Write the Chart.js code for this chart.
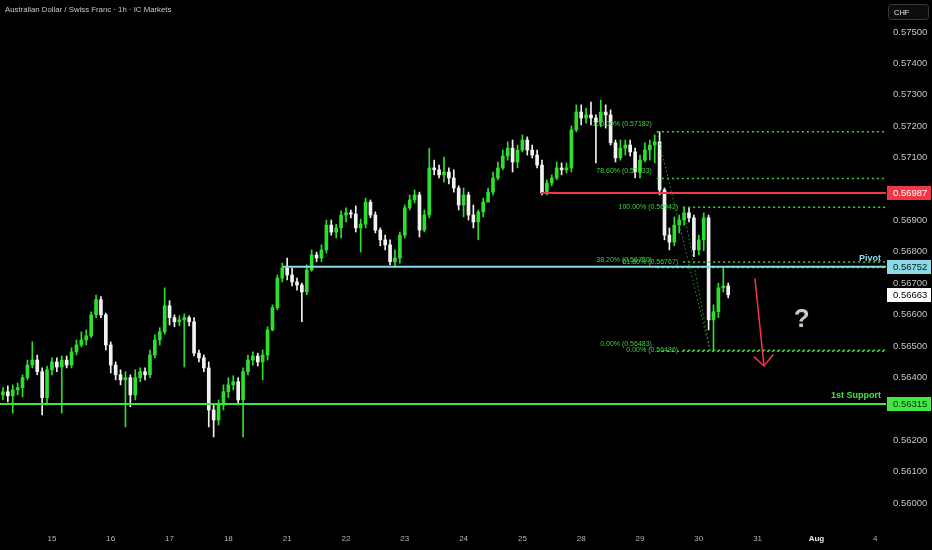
<!DOCTYPE html>
<html>
<head>
<meta charset="utf-8">
<script src="https://cdn.jsdelivr.net/npm/chart.js@4.4.1/dist/chart.umd.min.js"></script>
<style>
  html, body { margin:0; padding:0; background:#000; overflow:hidden; }
  canvas { display:block; }
</style>
</head>
<body>
<canvas id="chart" width="932" height="550"></canvas>
<script>
// x axis: trading hours since 15 Jul 00:00 (weekend removed), one tick per day
const dayLabels = ['15','16','17','18','21','22','23','24','25','28','29','30','31','Aug','4'];
const dayTicks  = [0,24,48,72,96,120,144,168,192,216,240,264,288,312,336];
const priceTicks = [0.560,0.561,0.562,0.563,0.564,0.565,0.566,0.567,0.568,0.569,0.570,0.571,0.572,0.573,0.574,0.575];

// 2h candles, first one at hour -20
const firstHour = -20, stepHours = 2;

const open = [
  0.56344,0.56354,0.56341,0.56360,0.56367,0.56399,0.56439,0.56455,0.56418,0.56335,
  0.56424,0.56449,0.56433,0.56455,0.56439,0.56481,0.56503,0.56519,0.56532,0.56599,
  0.56647,0.56599,0.56503,0.56439,0.56408,0.56392,0.56399,0.56344,0.56399,0.56418,
  0.56408,0.56471,0.56519,0.56545,0.56628,0.56590,0.56577,0.56583,0.56590,0.56577,
  0.56477,0.56462,0.56430,0.56296,0.56264,0.56312,0.56354,0.56376,0.56386,0.56328,
  0.56418,0.56455,0.56468,0.56449,0.56471,0.56551,0.56622,0.56716,0.56748,0.56726,
  0.56704,0.56694,0.56672,0.56742,0.56790,0.56780,0.56806,0.56885,0.56863,0.56876,
  0.56917,0.56924,0.56920,0.56876,0.56888,0.56958,0.56917,0.56869,0.56838,0.56822,
  0.56768,0.56780,0.56853,0.56940,0.56965,0.56981,0.56869,0.56917,0.57067,0.57061,
  0.57045,0.57054,0.57035,0.57003,0.56949,0.56981,0.56917,0.56895,0.56927,0.56958,
  0.56990,0.57035,0.57067,0.57105,0.57130,0.57086,0.57124,0.57156,0.57124,0.57108,
  0.57076,0.56987,0.57019,0.57035,0.57067,0.57061,0.57067,0.57188,0.57245,0.57226,
  0.57236,0.57226,0.57213,0.57245,0.57236,0.57147,0.57099,0.57130,0.57140,0.57118,
  0.57054,0.57092,0.57124,0.57140,0.57150,0.56997,0.56853,0.56831,0.56885,0.56901,
  0.56924,0.56908,0.56806,0.56838,0.56908,0.56583,0.56609,0.56685,0.56691
];
const high = [
  0.56367,0.56373,0.56376,0.56382,0.56408,0.56455,0.56513,0.56471,0.56430,0.56436,
  0.56462,0.56462,0.56468,0.56468,0.56494,0.56519,0.56545,0.56551,0.56609,0.56662,
  0.56657,0.56605,0.56513,0.56449,0.56424,0.56418,0.56408,0.56424,0.56430,0.56430,
  0.56487,0.56535,0.56558,0.56685,0.56644,0.56599,0.56596,0.56602,0.56596,0.56590,
  0.56487,0.56471,0.56449,0.56312,0.56328,0.56376,0.56399,0.56405,0.56399,0.56430,
  0.56471,0.56481,0.56477,0.56487,0.56561,0.56631,0.56726,0.56764,0.56780,0.56748,
  0.56716,0.56700,0.56758,0.56806,0.56799,0.56822,0.56901,0.56901,0.56888,0.56930,
  0.56940,0.56933,0.56946,0.56904,0.56971,0.56965,0.56927,0.56876,0.56853,0.56838,
  0.56806,0.56863,0.56949,0.56981,0.56997,0.56990,0.56933,0.57130,0.57092,0.57076,
  0.57102,0.57067,0.57061,0.57010,0.57003,0.56990,0.56949,0.56933,0.56971,0.57003,
  0.57054,0.57086,0.57124,0.57150,0.57156,0.57140,0.57172,0.57166,0.57140,0.57124,
  0.57092,0.57029,0.57045,0.57086,0.57083,0.57083,0.57201,0.57268,0.57268,0.57258,
  0.57277,0.57236,0.57283,0.57268,0.57252,0.57156,0.57156,0.57156,0.57156,0.57130,
  0.57108,0.57147,0.57156,0.57172,0.57182,0.57003,0.56876,0.56911,0.56917,0.56942,
  0.56940,0.56917,0.56853,0.56924,0.56917,0.56631,0.56700,0.56752,0.56700
];
const low = [
  0.56328,0.56322,0.56286,0.56344,0.56338,0.56392,0.56430,0.56408,0.56280,0.56312,
  0.56408,0.56418,0.56286,0.56430,0.56430,0.56471,0.56497,0.56503,0.56526,0.56590,
  0.56590,0.56487,0.56414,0.56392,0.56376,0.56242,0.56306,0.56328,0.56386,0.56392,
  0.56399,0.56462,0.56503,0.56538,0.56567,0.56561,0.56564,0.56433,0.56564,0.56468,
  0.56449,0.56418,0.56242,0.56210,0.56248,0.56296,0.56335,0.56360,0.56312,0.56210,
  0.56408,0.56439,0.56436,0.56392,0.56455,0.56548,0.56615,0.56704,0.56710,0.56691,
  0.56678,0.56577,0.56663,0.56738,0.56768,0.56768,0.56796,0.56853,0.56844,0.56844,
  0.56895,0.56908,0.56863,0.56799,0.56876,0.56908,0.56860,0.56819,0.56806,0.56758,
  0.56752,0.56764,0.56844,0.56933,0.56955,0.56847,0.56863,0.56908,0.57045,0.57035,
  0.57022,0.57016,0.56990,0.56933,0.56911,0.56901,0.56876,0.56838,0.56911,0.56965,
  0.56981,0.57029,0.57061,0.57092,0.57054,0.57067,0.57118,0.57108,0.57099,0.57067,
  0.56981,0.56981,0.57010,0.57029,0.57045,0.57051,0.57054,0.57182,0.57204,0.57210,
  0.57204,0.57083,0.57198,0.57194,0.57140,0.57086,0.57092,0.57108,0.57105,0.57035,
  0.57035,0.57086,0.57092,0.57083,0.56981,0.56838,0.56806,0.56819,0.56860,0.56885,
  0.56895,0.56784,0.56790,0.56803,0.56551,0.56486,0.56590,0.56672,0.56653
];
const close = [
  0.56354,0.56341,0.56360,0.56367,0.56399,0.56439,0.56455,0.56418,0.56335,0.56424,
  0.56449,0.56433,0.56455,0.56439,0.56481,0.56503,0.56519,0.56532,0.56599,0.56647,
  0.56599,0.56503,0.56439,0.56408,0.56392,0.56399,0.56344,0.56399,0.56418,0.56408,
  0.56471,0.56519,0.56545,0.56628,0.56590,0.56577,0.56583,0.56590,0.56577,0.56477,
  0.56462,0.56430,0.56296,0.56264,0.56312,0.56354,0.56376,0.56386,0.56328,0.56418,
  0.56455,0.56468,0.56449,0.56471,0.56551,0.56622,0.56716,0.56748,0.56726,0.56704,
  0.56694,0.56672,0.56742,0.56790,0.56780,0.56806,0.56885,0.56863,0.56876,0.56917,
  0.56924,0.56920,0.56876,0.56888,0.56958,0.56917,0.56869,0.56838,0.56822,0.56768,
  0.56780,0.56853,0.56940,0.56965,0.56981,0.56869,0.56917,0.57067,0.57061,0.57045,
  0.57054,0.57035,0.57003,0.56949,0.56981,0.56917,0.56895,0.56927,0.56958,0.56990,
  0.57035,0.57067,0.57105,0.57130,0.57086,0.57124,0.57156,0.57124,0.57108,0.57076,
  0.56987,0.57019,0.57035,0.57067,0.57061,0.57067,0.57188,0.57245,0.57226,0.57236,
  0.57226,0.57213,0.57245,0.57236,0.57147,0.57099,0.57130,0.57140,0.57118,0.57054,
  0.57092,0.57124,0.57140,0.57150,0.56997,0.56853,0.56831,0.56885,0.56901,0.56924,
  0.56908,0.56806,0.56838,0.56908,0.56583,0.56609,0.56685,0.56691,0.56663
];

// drawn levels (price) and where they start (hour)
const resistance = 0.56987, resistanceFrom = 199.6;
const pivot = 0.56752, pivotFrom = 94.3;
const support = 0.56315;
const lastPrice = 0.56663;
const fibA = [0.57182, 0.57033, 0.56750, 0.56483];
const fibAPct = ['100.00%', '78.60%', '38.20%', '0.00%'];
const fibAFrom = 246.9;
const fibB = [0.56942, 0.56767, 0.56486];
const fibBPct = ['100.00%', '61.80%', '0.00%'];
const fibBFrom = 257.6;
const fibEnd = 268.6;
const arrowX = [286.9, 290.6], arrowY = [0.56715, 0.56436];
const arrowHeadX = [286.5, 290.6, 294.4], arrowHeadY = [0.56466, 0.56436, 0.56473];
const question = [306, 0.56583];

const X_MIN = -21.2, X_MAX = 340.4;
const UP = '#2ee02e', DOWN = '#f2f2f2';
const RED = '#f23645', CYAN = '#8adbe7', GREEN = '#3ee63e', FIB = '#3dd33d';
const FONT = '"Liberation Sans", Arial, sans-serif';

const times = close.map((_, i) => firstHour + i * stepHours);
const candleColor = close.map((c, i) => c >= open[i] ? UP : DOWN);

function hline(price, from, color, width, dash){
  return {
    type: 'line',
    data: [{x: from, y: price}, {x: X_MAX, y: price}],
    borderColor: color, borderWidth: width, borderDash: dash || [],
    pointRadius: 0, fill: false, order: 0
  };
}
function seg(xs, ys, color, width, dash){
  return {
    type: 'line',
    data: xs.map((x, i) => ({x, y: ys[i]})),
    borderColor: color, borderWidth: width, borderDash: dash || [],
    pointRadius: 0, fill: false, order: 0
  };
}

const datasets = [
  { type:'bar', data: times.map((t, i) => ({x: t, y: [low[i], high[i]]})),
    backgroundColor: candleColor, barThickness: 1, grouped: false, order: 3 },
  { type:'bar', data: times.map((t, i) => ({x: t, y: [open[i], close[i]]})),
    backgroundColor: candleColor, barThickness: 3, grouped: false, minBarLength: 1, order: 2 },
  hline(support, X_MIN, GREEN, 2),
  hline(pivot, pivotFrom, CYAN, 2),
  hline(resistance, resistanceFrom, RED, 2),
  seg([fibAFrom, fibEnd], [fibA[0], fibA[3]], '#279a27', 1, [1.5, 2.5]),
  seg([fibBFrom, fibEnd], [fibB[0], fibB[2]], '#279a27', 1, [1.5, 2.5]),
  seg(arrowX, arrowY, RED, 1.5),
  seg(arrowHeadX, arrowHeadY, RED, 1.5)
];
fibA.forEach(p => datasets.push(hline(p, fibAFrom, FIB, 1.5, [2, 3])));
fibB.forEach(p => datasets.push(hline(p, fibBFrom, FIB, 1.5, [2, 3])));

const overlay = {
  id: 'overlay',
  afterDraw(chart){
    const {ctx, chartArea, scales: {x, y}} = chart;
    ctx.save();
    // fib labels
    ctx.font = '7px ' + FONT;
    ctx.fillStyle = FIB;
    ctx.textAlign = 'right';
    ctx.textBaseline = 'middle';
    fibA.forEach((p, i) => {
      ctx.fillText(fibAPct[i] + ' (' + p.toFixed(5) + ')', x.getPixelForValue(fibAFrom) - 5, y.getPixelForValue(p) - 7.5);
    });
    fibB.forEach((p, i) => {
      ctx.fillText(fibBPct[i] + ' (' + p.toFixed(5) + ')', x.getPixelForValue(fibBFrom) - 5, y.getPixelForValue(p));
    });

    // level names
    ctx.font = 'bold 9px ' + FONT;
    ctx.fillStyle = CYAN;
    ctx.fillText('Pivot', chartArea.right - 5, y.getPixelForValue(pivot) - 8);
    ctx.fillStyle = GREEN;
    ctx.fillText('1st Support', chartArea.right - 5, y.getPixelForValue(support) - 8);

    // question mark
    ctx.font = 'bold 26px ' + FONT;
    ctx.fillStyle = '#c9c9c9';
    ctx.textAlign = 'center';
    ctx.fillText('?', x.getPixelForValue(question[0]), y.getPixelForValue(question[1]));

    // price tags on the axis
    const tags = [
      [resistance, RED, '#ffffff'],
      [pivot, CYAN, '#111111'],
      [lastPrice, '#ffffff', '#000000'],
      [support, '#44e644', '#0b2a0b']
    ];
    ctx.font = '9.5px ' + FONT;
    ctx.textAlign = 'left';
    tags.forEach(([p, bg, fg]) => {
      const py = y.getPixelForValue(p);
      ctx.fillStyle = bg;
      ctx.fillRect(chartArea.right + 1, Math.round(py) - 7, 44, 14);
      ctx.fillStyle = fg;
      ctx.fillText(p.toFixed(5), chartArea.right + 7, py + 0.5);
    });

    // header
    ctx.font = '7.8px ' + FONT;
    ctx.fillStyle = '#c8c8c8';
    ctx.fillText('Australian Dollar / Swiss Franc \u00b7 1h \u00b7 IC Markets', 5, 10);

    // currency button
    ctx.fillStyle = '#0d0d0d';
    ctx.strokeStyle = '#3a3a3a';
    ctx.lineWidth = 1;
    ctx.beginPath();
    ctx.roundRect(888.5, 4.5, 40, 15, 3);
    ctx.fill();
    ctx.stroke();
    ctx.fillStyle = '#e6e6e6';
    ctx.font = '7.5px ' + FONT;
    ctx.fillText('CHF', 894, 12.5);
    ctx.restore();
  }
};

new Chart(document.getElementById('chart'), {
  type: 'bar',
  data: { datasets },
  options: {
    responsive: false,
    animation: false,
    devicePixelRatio: 1,
    layout: { padding: 0 },
    plugins: { legend: { display: false }, tooltip: { enabled: false } },
    scales: {
      x: {
        type: 'linear', min: X_MIN, max: X_MAX, offset: false,
        grid: { display: false, drawTicks: false }, border: { display: false },
        afterBuildTicks: s => { s.ticks = dayTicks.map(v => ({value: v})); },
        afterFit: s => { s.height = 22; s.paddingLeft = 0; s.paddingRight = 0; },
        ticks: {
          autoSkip: false, maxRotation: 0, padding: 6,
          callback: (v, i) => dayLabels[i],
          color: c => c.index === 13 ? '#e8e8e8' : '#b4b4b4',
          font: c => ({ family: FONT, size: 8, weight: c.index === 13 ? 'bold' : 'normal' })
        }
      },
      y: {
        position: 'right', min: 0.5592, max: 0.57602,
        grid: { display: false, drawTicks: false }, border: { display: false },
        afterBuildTicks: s => { s.ticks = priceTicks.map(v => ({value: v})); },
        afterFit: s => { s.width = 46; s.paddingTop = 0; s.paddingBottom = 0; },
        ticks: {
          padding: 7, color: '#c4c4c4',
          font: { family: FONT, size: 9.5 },
          callback: v => v.toFixed(5)
        }
      }
    }
  },
  plugins: [overlay]
});
</script>
</body>
</html>
